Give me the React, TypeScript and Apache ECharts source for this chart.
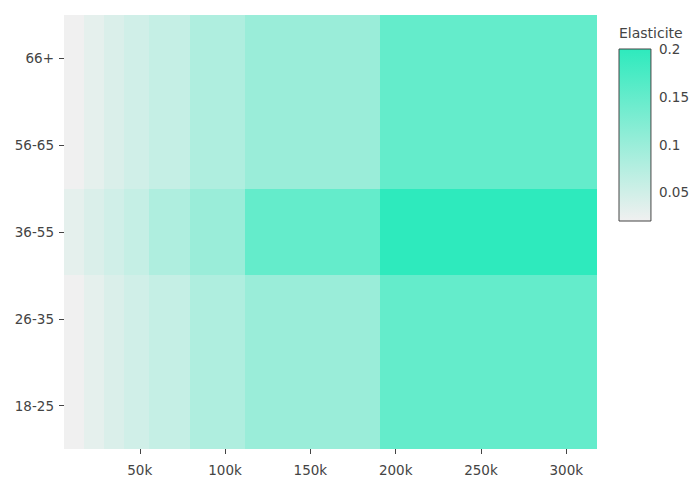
import React, { useEffect, useRef } from "react";
import * as echarts from "echarts";

// Age groups, bottom to top
const ageGroups = ["18-25", "26-35", "36-55", "56-65", "66+"];

// Income bracket edges (the cells are not of equal width)
const incomeEdges = [5600, 17300, 29000, 41000, 55700, 79300, 111600, 190800, 318000];

// Elasticity per income bracket, one list per age group
const elast18to25 = [0.02, 0.03, 0.04, 0.05, 0.06, 0.08, 0.1, 0.15];
const elast26to35 = [0.02, 0.03, 0.04, 0.05, 0.06, 0.08, 0.1, 0.15];
const elast36to55 = [0.03, 0.04, 0.05, 0.06, 0.08, 0.1, 0.15, 0.2];
const elast56to65 = [0.02, 0.03, 0.04, 0.05, 0.06, 0.08, 0.1, 0.15];
const elast66plus = [0.02, 0.03, 0.04, 0.05, 0.06, 0.08, 0.1, 0.15];

const xTicks = [50000, 100000, 150000, 200000, 250000, 300000];
const colorbarTicks = [0.05, 0.1, 0.15, 0.2];

const zMin = 0.02;
const zMax = 0.2;
const lowColor = "rgb(240,240,240)";
const highColor = "rgb(46,234,189)";
const textColor = "#444";
const fontFamily = "DejaVu Sans";

export default function App() {
  const ref = useRef<HTMLDivElement>(null);

  useEffect(() => {
    if (!ref.current) return;
    const chart = echarts.init(ref.current, undefined, { renderer: "svg" });

    const rows = [elast18to25, elast26to35, elast36to55, elast56to65, elast66plus];
    const cells: number[][] = [];
    rows.forEach((row, yi) => {
      row.forEach((v, i) => {
        cells.push([incomeEdges[i], incomeEdges[i + 1], yi, v]);
      });
    });

    chart.setOption({
      animation: false,
      title: {
        text: "Elasticite",
        left: 619,
        top: 26,
        padding: 0,
        textStyle: { fontSize: 14, fontWeight: "normal", color: textColor, fontFamily },
      },
      grid: [
        { left: 64, top: 15, width: 533, height: 435 },
        { left: 619, top: 49, width: 37, height: 172 },
      ],
      xAxis: [
        {
          type: "value",
          gridIndex: 0,
          min: incomeEdges[0],
          max: incomeEdges[incomeEdges.length - 1],
          axisLine: { show: false },
          splitLine: { show: false },
          axisTick: {
            show: true,
            customValues: xTicks,
            length: 5,
            lineStyle: { color: textColor },
          },
          axisLabel: {
            customValues: xTicks,
            formatter: (v: number) => v / 1000 + "k",
            color: textColor,
            fontSize: 13.5,
            fontFamily,
            margin: 14,
          },
        },
        {
          type: "value",
          gridIndex: 1,
          min: 0,
          max: 1,
          show: false,
        },
      ],
      yAxis: [
        {
          type: "category",
          gridIndex: 0,
          data: ageGroups,
          axisLine: { show: false },
          splitLine: { show: false },
          axisTick: {
            show: true,
            alignWithLabel: true,
            length: 5,
            lineStyle: { color: textColor },
          },
          axisLabel: { color: textColor, fontSize: 13.5, fontFamily, margin: 10 },
        },
        {
          type: "value",
          gridIndex: 1,
          position: "right",
          min: zMin,
          max: zMax,
          axisLine: { show: false },
          splitLine: { show: false },
          axisTick: {
            show: true,
            customValues: colorbarTicks,
            length: 5,
            lineStyle: { color: textColor },
          },
          axisLabel: {
            customValues: colorbarTicks,
            formatter: (v: number) => String(v),
            color: textColor,
            fontSize: 13.5,
            fontFamily,
            margin: 8,
          },
        },
      ],
      visualMap: {
        show: false,
        type: "continuous",
        min: zMin,
        max: zMax,
        dimension: 3,
        seriesIndex: 0,
        inRange: { color: [lowColor, highColor] },
      },
      series: [
        {
          type: "custom",
          xAxisIndex: 0,
          yAxisIndex: 0,
          encode: { x: [0, 1], y: 2 },
          data: cells,
          renderItem: (params: any, api: any) => {
            const yi = api.value(2);
            const p0 = api.coord([api.value(0), yi]);
            const p1 = api.coord([api.value(1), yi]);
            const h = api.size([0, 1])[1];
            // snap to whole pixels so neighbouring cells meet without seams
            const x0 = Math.round(p0[0]);
            const x1 = Math.round(p1[0]);
            const y0 = Math.round(p0[1] - h / 2);
            const y1 = Math.round(p0[1] + h / 2);
            return {
              type: "rect",
              shape: { x: x0, y: y0, width: x1 - x0, height: y1 - y0 },
              style: { fill: api.visual("color") },
            };
          },
        },
        {
          type: "custom",
          xAxisIndex: 1,
          yAxisIndex: 1,
          encode: { x: [0, 1], y: [2, 3] },
          data: [[0, 1, zMin, zMax]],
          renderItem: (params: any, api: any) => {
            const pTop = api.coord([api.value(0), api.value(3)]);
            const pBot = api.coord([api.value(1), api.value(2)]);
            return {
              type: "rect",
              shape: {
                x: pTop[0],
                y: pTop[1],
                width: pBot[0] - pTop[0],
                height: pBot[1] - pTop[1],
              },
              style: {
                fill: new echarts.graphic.LinearGradient(0, 1, 0, 0, [
                  { offset: 0, color: lowColor },
                  { offset: 1, color: highColor },
                ]),
                stroke: textColor,
                lineWidth: 1,
              },
            };
          },
        },
      ],
    });

    return () => chart.dispose();
  }, []);

  return (
    <div
      ref={ref}
      style={{ position: "absolute", left: 0, top: 0, width: 692, height: 477 }}
    />
  );
}
